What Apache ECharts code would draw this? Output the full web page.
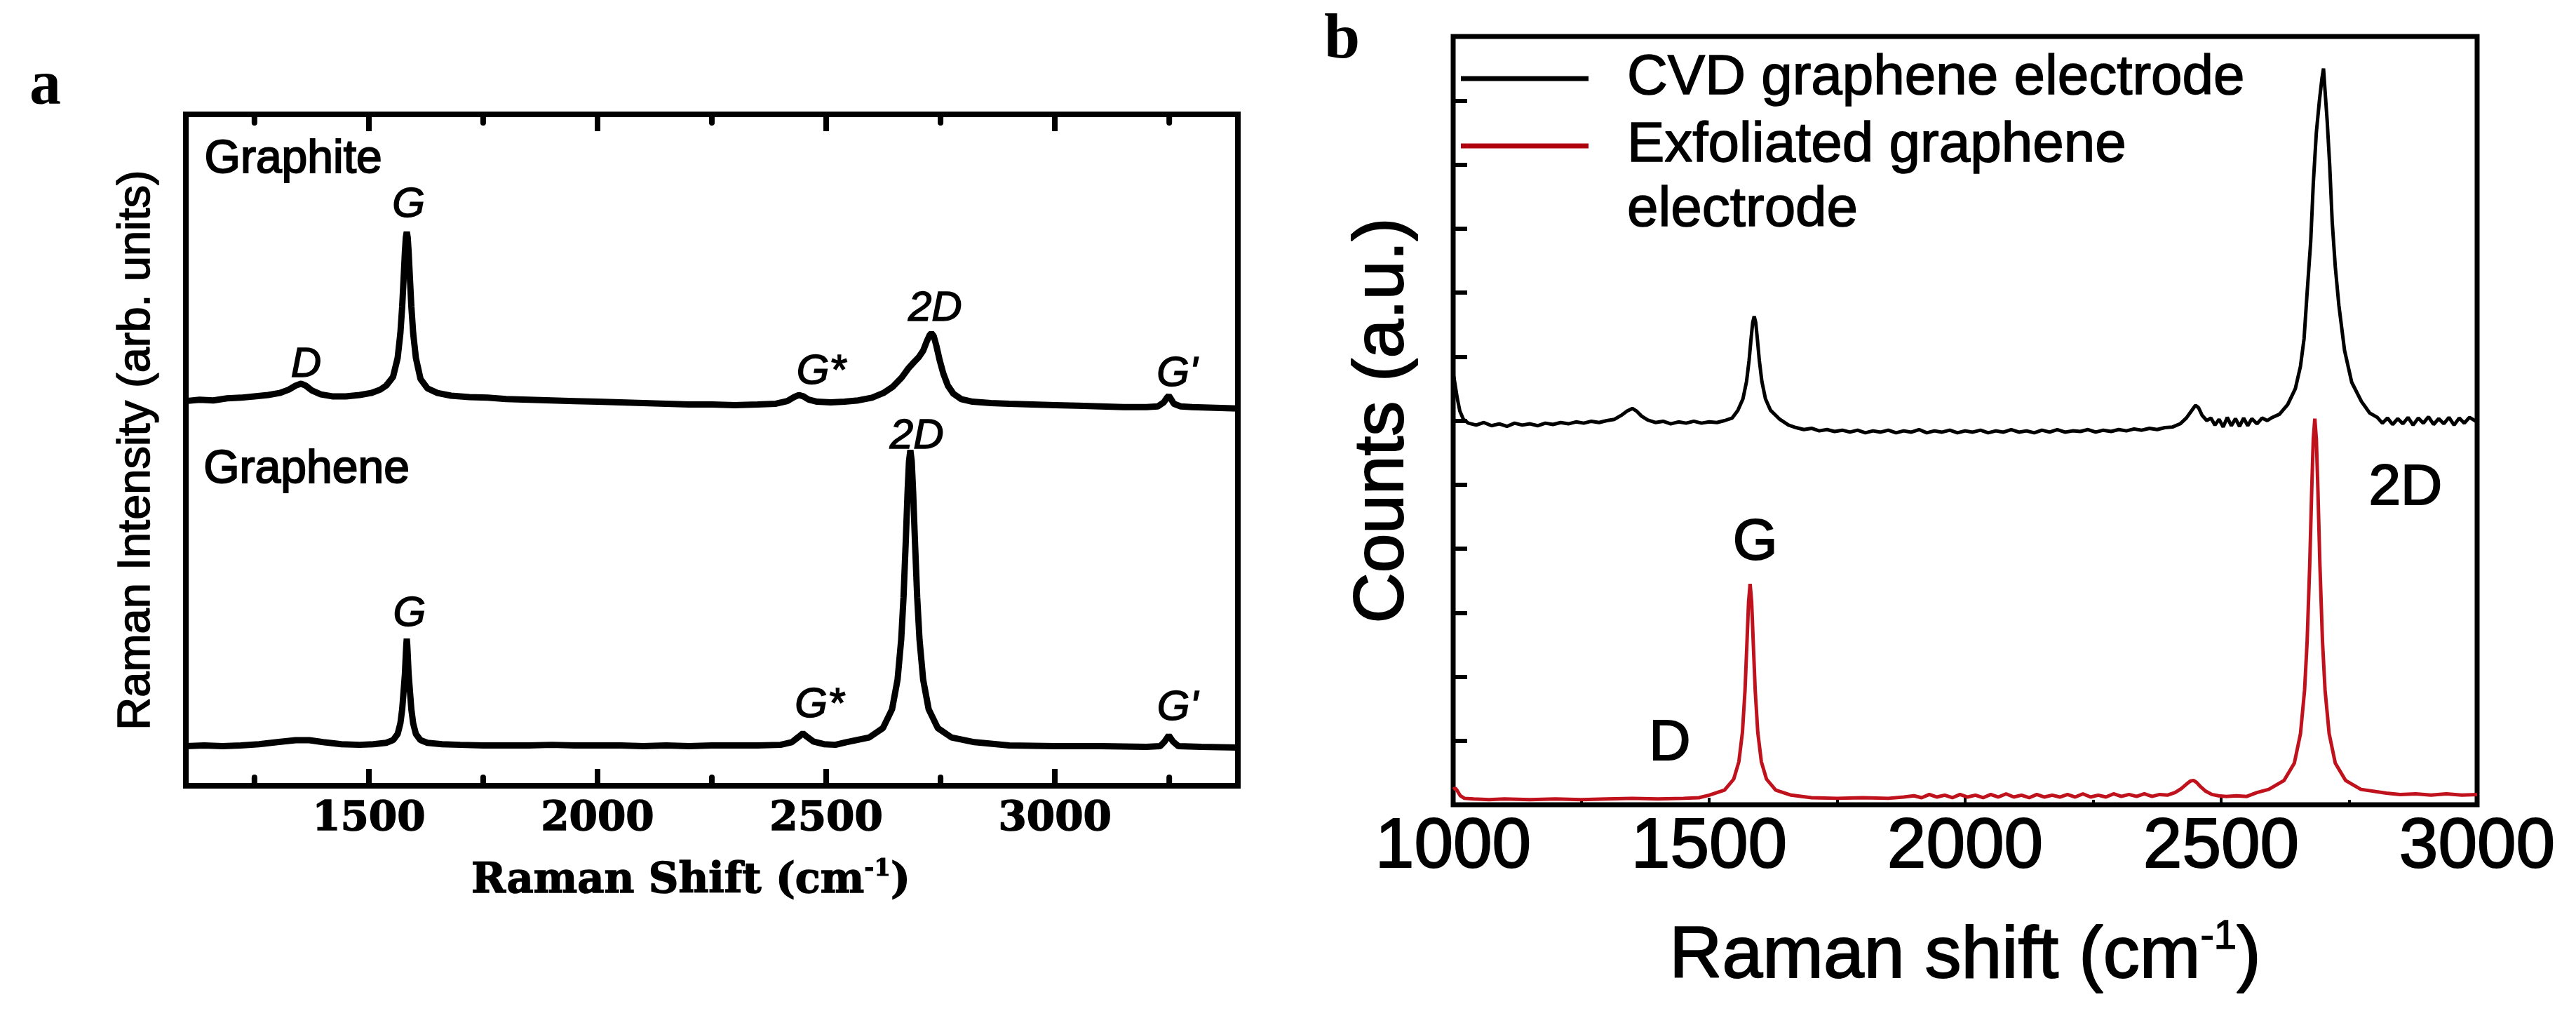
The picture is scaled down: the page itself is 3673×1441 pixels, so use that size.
<!DOCTYPE html>
<html>
<head>
<meta charset="utf-8">
<script src="https://cdn.jsdelivr.net/npm/echarts@6/dist/echarts.min.js"></script>
<style>html,body{margin:0;padding:0;background:#fff}#c{width:3673px;height:1441px}</style>
</head>
<body>
<div id="c"></div>
<script>
// ---------- Panel a data ----------
const xRangeA = [1100, 3400];
const xTicksMajorA = [1500, 2000, 2500, 3000];
const xTicksMinorA = [1250, 1750, 2250, 2750, 3250];

const graphite = [
[1100,57.3],[1130,57.5],[1160,57.4],[1190,57.7],[1220,57.8],[1250,58.0],[1280,58.2],[1305,58.5],[1325,59.0],[1340,59.6],[1352,59.9],[1362,59.6],[1375,58.9],[1395,58.3],[1420,58.0],[1450,58.0],[1480,58.2],[1505,58.5],[1525,59.0],[1538,59.6],[1553,60.9],[1563,63.7],[1569,67.4],[1573,71.4],[1576,75.4],[1579,79.6],[1581,81.7],[1583,82.5],[1585,81.7],[1587,79.6],[1590,75.4],[1593,71.4],[1597,67.4],[1603,63.7],[1613,60.6],[1628,59.2],[1650,58.5],[1680,58.1],[1720,57.9],[1760,57.8],[1800,57.6],[1850,57.5],[1900,57.4],[1950,57.3],[2000,57.2],[2050,57.1],[2100,57.0],[2150,56.9],[2200,56.8],[2250,56.8],[2300,56.7],[2350,56.8],[2390,56.9],[2415,57.3],[2430,57.9],[2440,58.2],[2450,58.0],[2462,57.5],[2480,57.2],[2510,57.1],[2540,57.2],[2570,57.4],[2600,57.8],[2625,58.5],[2645,59.4],[2665,60.8],[2680,62.2],[2692,63.1],[2702,63.8],[2712,64.8],[2720,66.2],[2726,67.1],[2730,67.4],[2735,67.0],[2741,65.5],[2748,63.4],[2756,61.4],[2766,59.6],[2778,58.4],[2795,57.6],[2820,57.2],[2860,57.0],[2900,56.9],[2950,56.8],[3000,56.7],[3050,56.6],[3100,56.5],[3150,56.4],[3200,56.4],[3225,56.5],[3238,57.1],[3245,57.8],[3249,58.1],[3253,57.7],[3260,56.9],[3275,56.5],[3300,56.4],[3350,56.3],[3400,56.2]
];

const graphene = [
[1100,5.9],[1140,6.0],[1180,5.9],[1220,6.0],[1260,6.2],[1300,6.5],[1340,6.8],[1370,6.8],[1400,6.5],[1440,6.2],[1480,6.1],[1510,6.2],[1538,6.4],[1553,6.8],[1563,7.7],[1569,9.3],[1573,11.4],[1576,14.0],[1579,16.7],[1581,19.7],[1582,21.0],[1583,21.9],[1584,21.0],[1585,19.7],[1587,16.7],[1590,14.0],[1593,11.4],[1597,9.3],[1603,7.7],[1613,6.8],[1628,6.4],[1660,6.2],[1700,6.1],[1750,6.0],[1800,6.0],[1850,6.0],[1900,6.1],[1950,6.0],[2000,6.0],[2050,6.0],[2100,5.9],[2150,6.0],[2200,5.9],[2250,6.0],[2300,6.0],[2350,6.0],[2400,6.1],[2425,6.5],[2440,7.3],[2449,7.8],[2458,7.3],[2472,6.6],[2495,6.2],[2520,6.1],[2544,6.5],[2594,7.2],[2624,8.6],[2644,11.4],[2656,15.8],[2664,21.8],[2669,28.0],[2674,36.5],[2678,43.9],[2681,48.3],[2684,50.0],[2687,48.3],[2690,43.9],[2694,36.5],[2699,28.0],[2704,21.8],[2712,15.8],[2724,11.4],[2744,8.6],[2774,7.2],[2824,6.5],[2900,6.0],[3000,5.9],[3100,5.9],[3200,5.8],[3230,5.9],[3240,6.6],[3249,7.5],[3258,6.6],[3270,5.9],[3320,5.8],[3400,5.7]
];

const sampleLabelsA = [[1140, 93.2, 'Graphite'], [1138, 47.0, 'Graphene']];
const peakLabelsGraphite = [[1363, 62.7, 'D'], [1587, 86.5, 'G'], [2489, 61.6, 'G*'], [2738, 71.0, '2D'], [3267, 61.3, "G'"]];
const peakLabelsGraphene = [[1589, 25.6, 'G'], [2485, 12.0, 'G*'], [2698, 52.0, '2D'], [3268, 11.6, "G'"]];

// ---------- Panel b data ----------
const cvdName = 'CVD graphene electrode';
const exfName = 'Exfoliated graphene electrode';

const cvd = [
[1000,6.75],[1004,6.55],[1008,6.35],[1013,6.15],[1020,6.02],[1030,5.96],[1045,5.93],[1060,5.97],[1075,5.92],[1090,5.95],[1105,5.91],[1120,5.96],[1135,5.93],[1150,5.95],[1165,5.92],[1180,5.96],[1195,5.94],[1210,5.97],[1225,5.95],[1240,5.98],[1255,5.96],[1270,5.99],[1285,5.97],[1300,6.0],[1315,6.02],[1328,6.08],[1340,6.15],[1350,6.19],[1358,6.15],[1368,6.07],[1380,6.01],[1395,5.97],[1410,5.99],[1425,5.95],[1440,5.98],[1455,5.96],[1470,5.99],[1485,5.96],[1500,5.98],[1515,5.97],[1530,6.0],[1545,6.04],[1556,6.16],[1566,6.34],[1573,6.61],[1578,6.94],[1582,7.29],[1585,7.53],[1588,7.63],[1591,7.53],[1594,7.29],[1598,6.94],[1603,6.61],[1610,6.34],[1620,6.16],[1638,6.02],[1655,5.93],[1670,5.89],[1685,5.86],[1700,5.88],[1715,5.84],[1730,5.86],[1745,5.83],[1760,5.85],[1775,5.82],[1790,5.85],[1805,5.81],[1820,5.84],[1835,5.82],[1850,5.85],[1865,5.81],[1880,5.84],[1895,5.82],[1910,5.86],[1925,5.81],[1940,5.84],[1955,5.82],[1970,5.85],[1985,5.81],[2000,5.84],[2015,5.82],[2030,5.85],[2045,5.81],[2060,5.84],[2075,5.82],[2090,5.86],[2105,5.82],[2120,5.84],[2135,5.81],[2150,5.85],[2165,5.82],[2180,5.86],[2195,5.82],[2210,5.84],[2225,5.83],[2240,5.86],[2255,5.82],[2270,5.85],[2285,5.83],[2300,5.86],[2315,5.84],[2330,5.87],[2345,5.85],[2360,5.88],[2375,5.86],[2390,5.89],[2405,5.9],[2420,5.95],[2432,6.04],[2442,6.15],[2450,6.24],[2456,6.2],[2463,6.08],[2472,6.0],[2480,6.04],[2488,5.93],[2496,6.02],[2504,5.9],[2512,6.05],[2520,5.92],[2528,6.03],[2536,5.91],[2544,6.04],[2552,5.92],[2560,6.03],[2570,5.95],[2580,6.04],[2590,6.0],[2600,6.05],[2614,6.1],[2630,6.25],[2645,6.5],[2655,6.85],[2662,7.28],[2668,8.0],[2675,8.8],[2680,9.7],[2686,10.5],[2692,11.0],[2697,11.35],[2700,11.5],[2703,11.15],[2707,10.7],[2712,10.0],[2717,9.1],[2723,8.4],[2730,7.8],[2741,7.1],[2755,6.6],[2774,6.3],[2790,6.12],[2805,6.05],[2815,5.96],[2825,6.04],[2835,5.94],[2845,6.03],[2855,5.95],[2865,6.05],[2875,5.93],[2885,6.04],[2895,5.96],[2905,6.06],[2915,5.94],[2925,6.03],[2935,5.95],[2945,6.05],[2955,5.93],[2965,6.04],[2975,5.96],[2985,6.05],[3000,5.98]
];

const exfoliated = [
[1000,0.24],[1004,0.26],[1008,0.22],[1014,0.14],[1022,0.1],[1040,0.09],[1070,0.08],[1100,0.09],[1150,0.08],[1200,0.09],[1250,0.08],[1300,0.09],[1350,0.1],[1400,0.09],[1450,0.1],[1480,0.11],[1500,0.15],[1530,0.23],[1548,0.40],[1558,0.67],[1565,1.13],[1570,1.78],[1574,2.56],[1577,3.17],[1580,3.45],[1583,3.17],[1586,2.56],[1590,1.78],[1595,1.13],[1602,0.67],[1612,0.40],[1630,0.23],[1660,0.15],[1700,0.11],[1750,0.1],[1800,0.11],[1850,0.1],[1880,0.12],[1900,0.14],[1915,0.11],[1930,0.16],[1945,0.12],[1960,0.15],[1975,0.11],[1990,0.16],[2005,0.12],[2020,0.15],[2035,0.11],[2050,0.16],[2065,0.12],[2080,0.17],[2095,0.12],[2110,0.15],[2125,0.11],[2140,0.16],[2155,0.12],[2170,0.15],[2185,0.12],[2200,0.16],[2215,0.12],[2230,0.17],[2245,0.12],[2260,0.15],[2275,0.12],[2290,0.17],[2305,0.13],[2320,0.16],[2335,0.13],[2350,0.17],[2365,0.13],[2380,0.16],[2395,0.15],[2410,0.19],[2422,0.25],[2432,0.32],[2440,0.37],[2446,0.38],[2452,0.35],[2460,0.28],[2470,0.21],[2482,0.16],[2495,0.14],[2510,0.13],[2530,0.14],[2550,0.13],[2570,0.19],[2593,0.24],[2623,0.38],[2643,0.65],[2655,1.11],[2663,1.79],[2668,2.55],[2673,3.73],[2677,4.93],[2680,5.71],[2683,6.03],[2686,5.71],[2689,4.93],[2693,3.73],[2698,2.55],[2703,1.79],[2711,1.11],[2723,0.65],[2743,0.38],[2773,0.24],[2823,0.18],[2850,0.16],[2880,0.17],[2910,0.15],[2940,0.17],[2970,0.15],[3000,0.16]
];

const peakLabelsB = [[1423, 0.95, 'D'], [1590, 4.08, 'G'], [2860, 4.94, '2D']];

// ---------- Layout ----------
const SANS = 'Liberation Sans, Arial, sans-serif';
const SERIF = 'DejaVu Serif, serif';
const gridA = {left: 265, top: 163, width: 1500, height: 957};
const gridB = {left: 2072, top: 52, width: 1460, height: 1095};
const yRangeA = [0, 100];
const yRangeB = [0, 12];

const chart = echarts.init(document.getElementById('c'));
const toLabelData = arr => arr.map(d => ({value: [d[0], d[1]], name: d[2]}));
const hidden = {axisLine: {show: false}, axisTick: {show: false}, axisLabel: {show: false}, splitLine: {show: false}};
const ink = w => ({textBorderColor: '#000', textBorderWidth: w});

// inward tick marks: short vertical segments at the tick values (length in pixels)
function tickLines(xIdx, yIdx, vals, yRange, gridH, lenPx, width, fromTop) {
  const unit = (yRange[1] - yRange[0]) / gridH;
  const y0 = fromTop ? yRange[1] : yRange[0];
  const y1 = fromTop ? yRange[1] - lenPx * unit : yRange[0] + lenPx * unit;
  const data = [];
  vals.forEach(v => { data.push([v, y0], [v, y1], [v, '-']); });
  return {type: 'line', xAxisIndex: xIdx, yAxisIndex: yIdx, data: data, showSymbol: false, symbol: 'none',
          connectNulls: false, clip: false, silent: true, z: 6,
          lineStyle: {color: '#000', width: width, cap: 'round'}, itemStyle: {color: '#000'}};
}
const labelScatter = (xIdx, yIdx, arr, label) => ({
  type: 'scatter', xAxisIndex: xIdx, yAxisIndex: yIdx, data: toLabelData(arr), silent: true,
  symbolSize: 1, itemStyle: {color: 'rgba(0,0,0,0)', opacity: 1},
  label: Object.assign({show: true, formatter: '{b}', color: '#000', opacity: 1}, label)
});
// panel a x axes: auto interval gives ticks at 1500..3000 (plus the frame edges)
const axisA = (pos, withLabels) => ({
  gridIndex: 0, type: 'value', position: pos, min: xRangeA[0], max: xRangeA[1], splitNumber: 4,
  axisLine: {show: false},
  axisTick: {show: true, inside: true, length: 24, lineStyle: {color: '#000', width: 8}},
  axisLabel: withLabels
    ? Object.assign({show: true, margin: 19, color: '#000', fontFamily: SERIF, fontWeight: 'bold', fontSize: 58,
        formatter: v => (xTicksMajorA.indexOf(v) >= 0 ? String(v) : ''), showMinLabel: false, showMaxLabel: false}, ink(1.5))
    : {show: false},
  splitLine: {show: false}
});

const xAxisA0 = axisA('bottom', true);
Object.assign(xAxisA0, {
  name: '{a|Raman Shift (cm}{s|-1}{a|)}', nameLocation: 'middle', nameGap: 102,
  nameTextStyle: {color: '#000', padding: [0, 60, 0, 0], rich: {
    a: Object.assign({fontFamily: SERIF, fontWeight: 'bold', fontSize: 59, color: '#000', lineHeight: 70}, ink(1.5)),
    s: Object.assign({fontFamily: SERIF, fontWeight: 'bold', fontSize: 34, color: '#000', verticalAlign: 'top', lineHeight: 70}, ink(1))
  }}
});

chart.setOption({
  animation: false,
  grid: [
    Object.assign({show: true, borderColor: '#000', borderWidth: 8, backgroundColor: 'transparent', outerBoundsMode: 'none'}, gridA),
    Object.assign({show: true, borderColor: '#000', borderWidth: 7, backgroundColor: 'transparent', outerBoundsMode: 'none'}, gridB)
  ],
  xAxis: [
    xAxisA0,                 // 0
    axisA('top', false),     // 1
    { // 2: panel b
      gridIndex: 1, type: 'value', position: 'bottom', min: 1000, max: 3000, interval: 500,
      axisLine: {show: false},
      axisTick: {show: true, inside: true, length: 10, lineStyle: {color: '#000', width: 4}},
      minorTick: {show: true, splitNumber: 2, length: 7, lineStyle: {color: '#000', width: 4}},
      axisLabel: Object.assign({show: true, margin: 11, color: '#000', fontFamily: SANS, fontSize: 100, formatter: v => String(v)}, ink(2)),
      splitLine: {show: false}, minorSplitLine: {show: false},
      name: '{a|Raman shift (cm}{s|-1}{a|)}', nameLocation: 'middle', nameGap: 160,
      nameTextStyle: {color: '#000', rich: {
        a: Object.assign({fontFamily: SANS, fontSize: 104, color: '#000', lineHeight: 114}, ink(2)),
        s: Object.assign({fontFamily: SANS, fontSize: 58, color: '#000', verticalAlign: 'top', lineHeight: 114}, ink(1.5))
      }}
    }
  ],
  yAxis: [
    Object.assign({gridIndex: 0, type: 'value', min: yRangeA[0], max: yRangeA[1], position: 'left',
      name: 'Raman Intensity (arb. units)', nameLocation: 'middle', nameGap: 37,
      nameTextStyle: Object.assign({color: '#000', fontFamily: SANS, fontSize: 65}, ink(1.5))}, hidden),
    {gridIndex: 1, type: 'value', min: yRangeB[0], max: yRangeB[1], interval: 1, position: 'left',
      axisLine: {show: false},
      axisTick: {show: true, inside: true, length: 20, lineStyle: {color: '#000', width: 6}},
      axisLabel: {show: false}, splitLine: {show: false},
      name: 'Counts (a.u.)', nameLocation: 'middle', nameGap: 50,
      nameTextStyle: Object.assign({color: '#000', fontFamily: SANS, fontSize: 100}, ink(2))}
  ],
  legend: [
    {data: [cvdName], orient: 'vertical', left: 2083, top: 66, padding: 0, selectedMode: false,
     icon: 'rect', itemWidth: 182, itemHeight: 7,
     textStyle: Object.assign({color: '#000', fontFamily: SANS, fontSize: 80, lineHeight: 92, padding: [0, 0, 0, 50]}, ink(1.5))},
    {data: [exfName], orient: 'vertical', left: 2083, top: 70, padding: 0, selectedMode: false,
     icon: 'rect', itemWidth: 182, itemHeight: 7,
     formatter: () => '\nExfoliated graphene\nelectrode',
     textStyle: Object.assign({color: '#000', fontFamily: SANS, fontSize: 80, lineHeight: 92, padding: [0, 0, 0, 50]}, ink(1.5))}
  ],
  graphic: [
    {type: 'text', left: 42, top: 80, style: {text: 'a', font: 'bold 90px "Liberation Serif", serif', fill: '#000'}},
    {type: 'text', left: 1888, top: 12, style: {text: 'b', font: 'bold 92px "Liberation Serif", serif', fill: '#000'}}
  ],
  series: [
    {name: 'Graphite', type: 'line', xAxisIndex: 0, yAxisIndex: 0, data: graphite, showSymbol: false, symbol: 'none',
     lineStyle: {color: '#000', width: 9}, itemStyle: {color: '#000'}, z: 3},
    {name: 'Graphene', type: 'line', xAxisIndex: 0, yAxisIndex: 0, data: graphene, showSymbol: false, symbol: 'none',
     lineStyle: {color: '#000', width: 9}, itemStyle: {color: '#000'}, z: 3},
    tickLines(0, 0, xTicksMinorA, yRangeA, gridA.height, 12, 8, false),
    tickLines(0, 0, xTicksMinorA, yRangeA, gridA.height, 12, 8, true),
    labelScatter(0, 0, sampleLabelsA, Object.assign({position: 'right', distance: 0, fontFamily: SANS, fontSize: 66}, ink(2))),
    labelScatter(0, 0, peakLabelsGraphite, Object.assign({position: 'inside', fontFamily: SANS, fontStyle: 'italic', fontSize: 60}, ink(1.5))),
    labelScatter(0, 0, peakLabelsGraphene, Object.assign({position: 'inside', fontFamily: SANS, fontStyle: 'italic', fontSize: 60}, ink(1.5))),
    {name: exfName, type: 'line', xAxisIndex: 2, yAxisIndex: 1, data: exfoliated, showSymbol: false, symbol: 'none',
     lineStyle: {color: '#c0121c', width: 5}, itemStyle: {color: '#b00010'}, z: 3},
    {name: cvdName, type: 'line', xAxisIndex: 2, yAxisIndex: 1, data: cvd, showSymbol: false, symbol: 'none',
     lineStyle: {color: '#000', width: 5}, itemStyle: {color: '#000'}, z: 4},
    labelScatter(2, 1, peakLabelsB, Object.assign({position: 'inside', fontFamily: SANS, fontSize: 82}, ink(2)))
  ]
});
</script>
</body>
</html>
